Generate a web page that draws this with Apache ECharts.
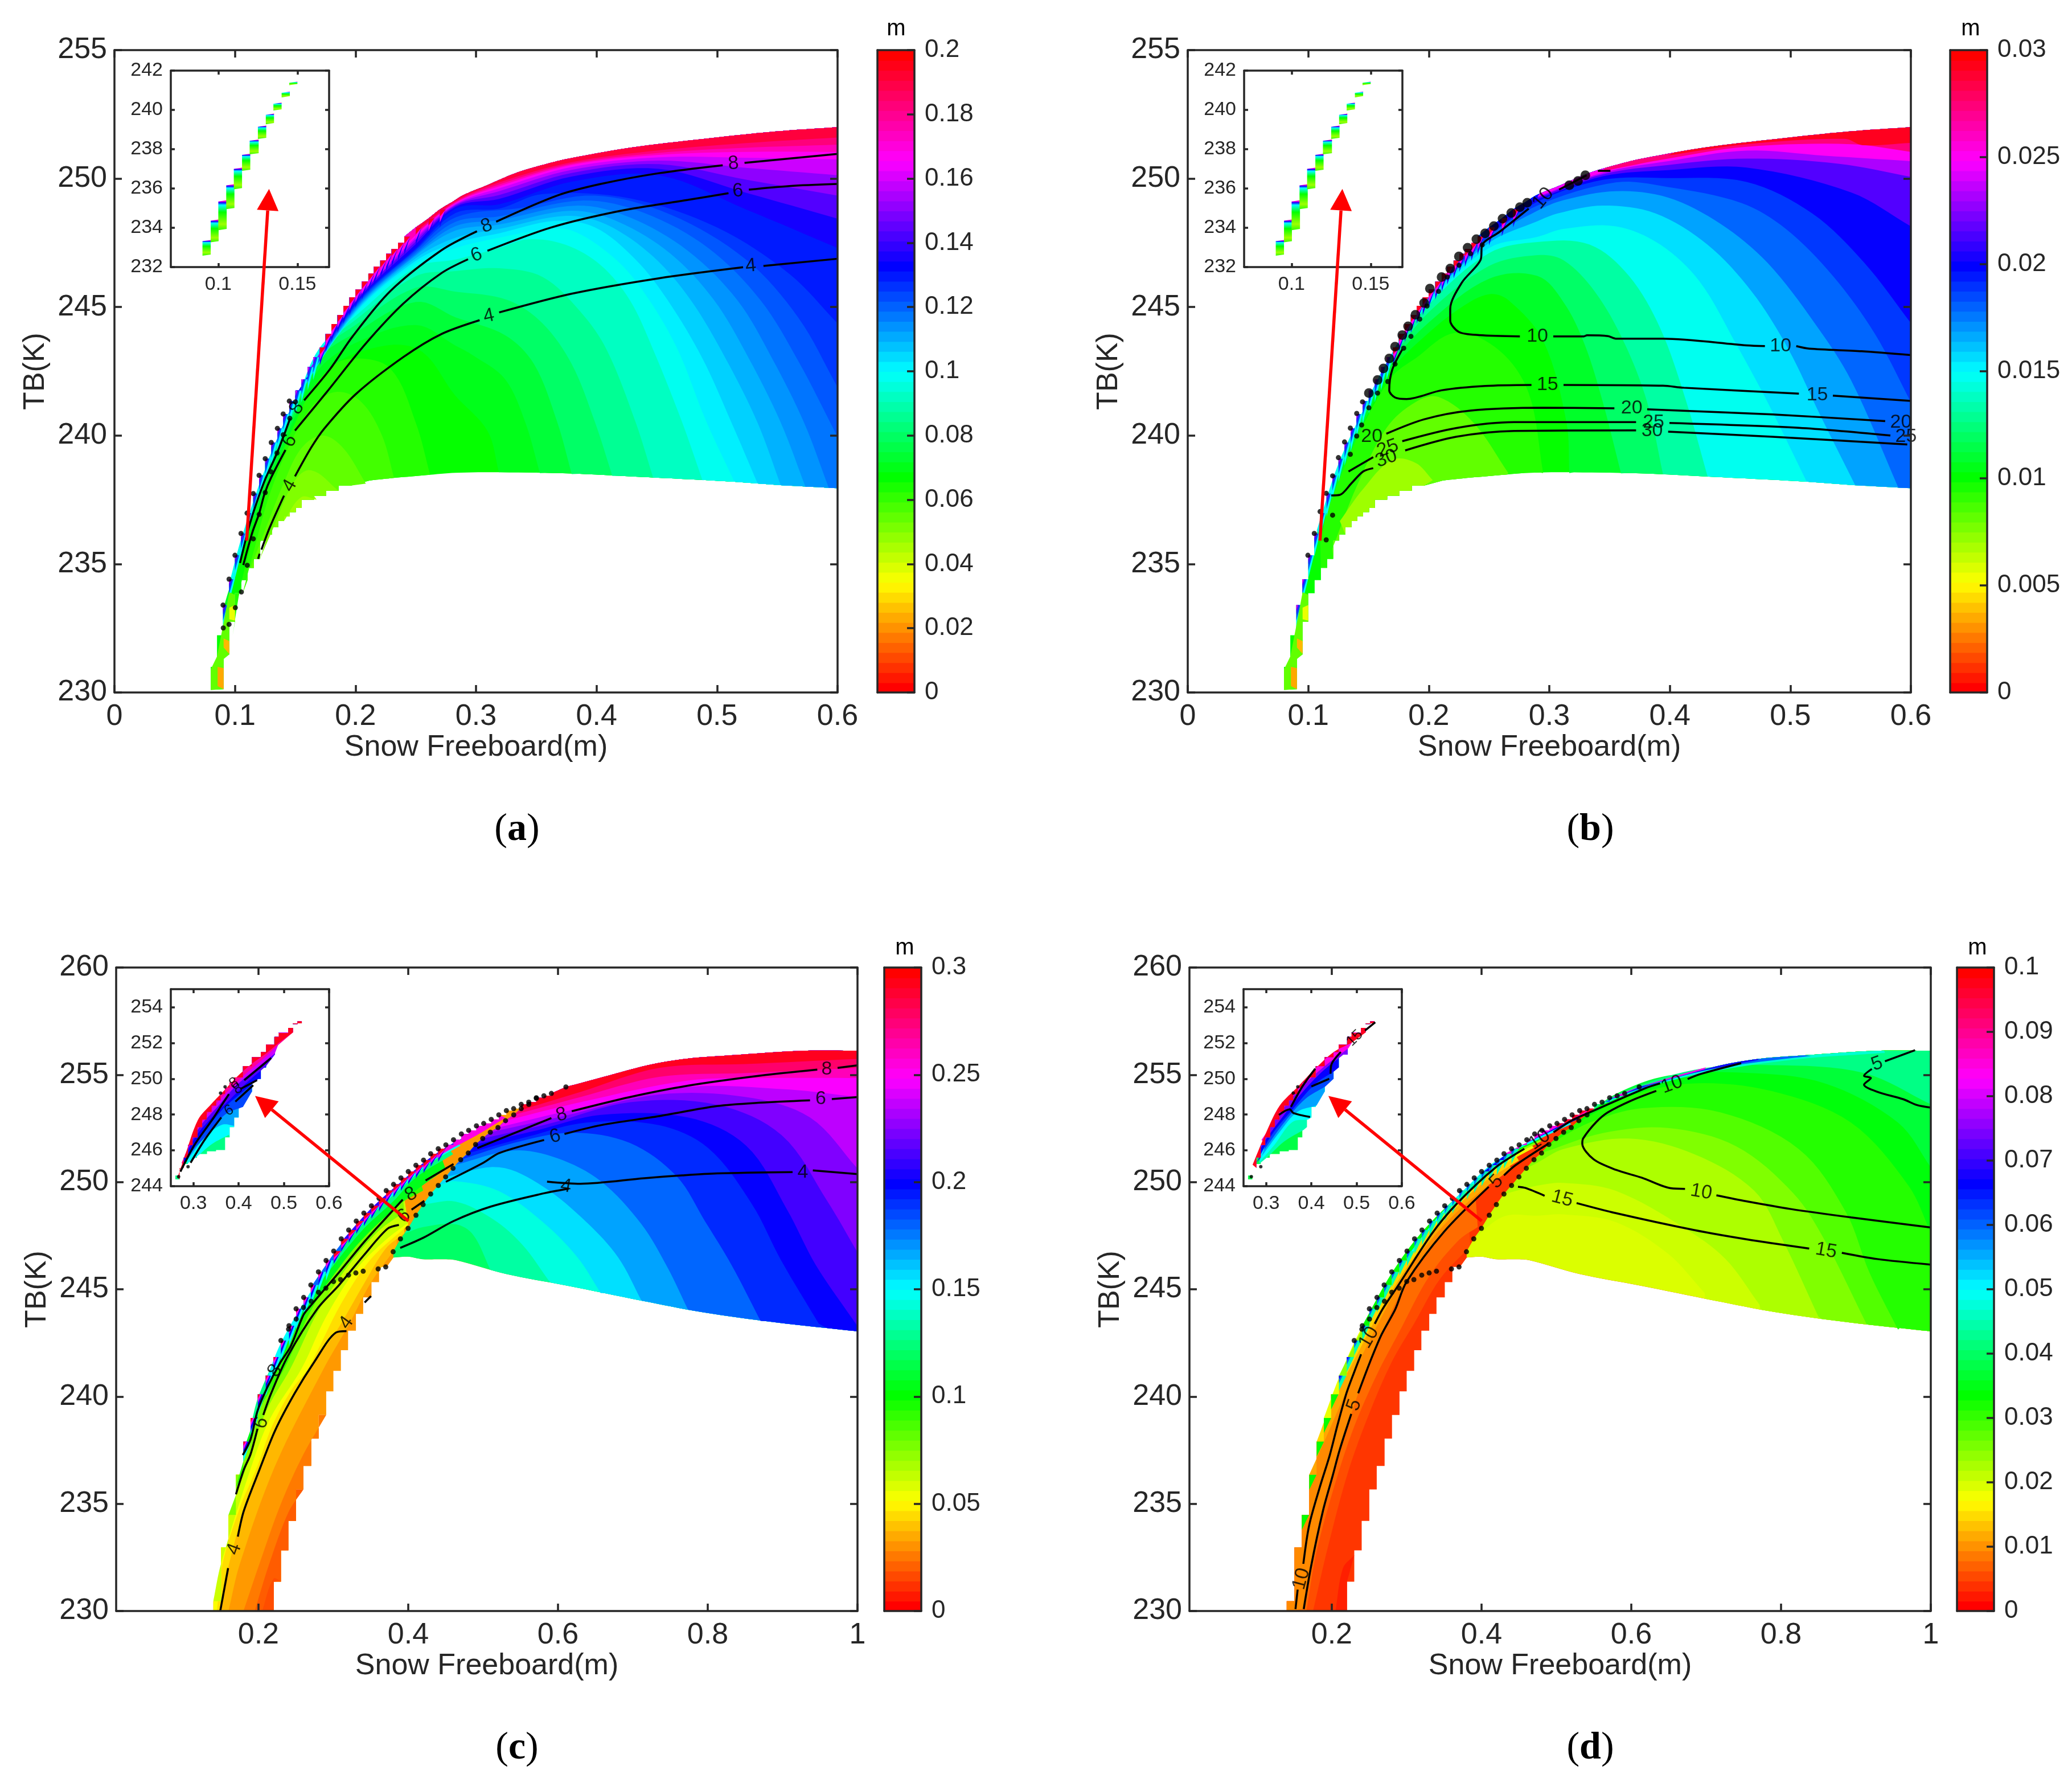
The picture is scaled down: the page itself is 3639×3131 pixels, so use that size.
<!DOCTYPE html>
<html>
<head>
<meta charset="utf-8">
<title>Snow freeboard retrieval</title>
<script src="https://cdn.jsdelivr.net/npm/echarts@6/dist/echarts.min.js"></script>
<style>
html,body{margin:0;padding:0;background:#fff}
#chart{width:3639px;height:3131px}
</style>
</head>
<body>
<div id="chart"></div>
<script>
// tick labels
const xTicksAB = [0,.1,.2,.3,.4,.5,.6];
const yTicksAB = [230,235,240,245,250,255];
const xTicksCD = [.2,.4,.6,.8,1];
const yTicksCD = [230,235,240,245,250,255,260];
const xTicksInsetAB = [.1,.15];
const yTicksInsetAB = [232,234,236,238,240,242];
const xTicksInsetCD = [.3,.4,.5,.6];
const yTicksInsetCD = [244,246,248,250,252,254];

// outer edge of the filled area, panels a and b
const upperA = [[.0799,230.1],[.0799,231],[.0851,232.23],[.0901,233.4],[.0951,234.41],[.1,235.34],[.105,236.19],[.11,236.98],[.1152,237.74],[.12,238.45],[.1251,239.1],[.1301,239.73],[.1352,240.28],[.14,240.84],[.1451,241.34],[.1502,241.75],[.1552,242.19],[.1604,242.66],[.165,243.05],[.1704,243.43],[.1752,243.95],[.18,244.34],[.1851,244.69],[.19,245.05],[.195,245.38],[.2,245.68],[.2054,245.99],[.2107,246.3],[.2153,246.57],[.2206,246.81],[.2254,247.07],[.23,247.26],[.2353,247.5],[.2405,247.74],[.25,248.1],[.2606,248.45],[.27,248.8],[.2806,249.1],[.29,249.37],[.3066,249.69],[.335,250.25],[.365,250.65],[.3794,250.8],[.4276,251.2],[.49,251.55],[.548,251.83],[.6,252]];
const lowerA = [[.0906,230.13],[.0953,231.48],[.1,232.75],[.1053,233.86],[.1105,234.37],[.1157,234.85],[.1207,235.2],[.1257,235.91],[.1308,236.15],[.1358,236.43],[.1407,236.67],[.1455,236.86],[.1505,237.02],[.1553,237.18],[.1655,237.5],[.1757,237.66],[.1859,237.85],[.1961,238.05],[.2118,238.25],[.2275,238.33],[.2589,238.46],[.283,238.55],[.3205,238.57],[.3794,238.52],[.4323,238.4],[.4757,238.3],[.5145,238.2],[.5528,238.07],[.6,237.95]];
// outer edge, panels c and d
const upperCD = [[.1399,230],[.1399,230.46],[.1503,232.97],[.16,234.48],[.1699,236.35],[.1799,237.9],[.1895,239],[.1992,240.1],[.2097,240.97],[.2201,241.84],[.23,242.61],[.2408,243.3],[.2503,244.09],[.2604,244.62],[.27,245.2],[.2801,245.81],[.2903,246.34],[.3005,246.78],[.3106,247.35],[.3205,247.76],[.3306,248.18],[.3408,248.55],[.3509,248.89],[.3611,249.24],[.3706,249.6],[.3804,249.89],[.3903,250.19],[.4001,250.49],[.4103,250.78],[.4205,251.02],[.43,251.32],[.4401,251.55],[.4503,251.73],[.4605,251.97],[.471,252.24],[.4807,252.41],[.4911,252.62],[.5008,252.73],[.5109,252.92],[.521,253.13],[.5311,253.33],[.5408,253.42],[.5509,253.62],[.561,253.72],[.5711,253.93],[.5812,254.02],[.5912,254.13],[.6106,254.43],[.6611,254.9],[.7193,255.44],[.7697,255.74],[.8318,255.91],[.9288,256.12],[1,256.12]];
const lowerCD = [[.2204,230],[.2301,231.37],[.24,232.83],[.2502,234.2],[.2601,235.67],[.2706,236.76],[.2805,238.04],[.2905,239.14],[.3001,240.24],[.3101,241.2],[.3197,242.16],[.3302,243.07],[.3399,243.85],[.351,244.62],[.3611,245.33],[.3713,246.04],[.3804,246.48],[.3994,246.52],[.4198,246.4],[.4435,246.4],[.4632,246.36],[.5311,245.71],[.6106,245.18],[.7115,244.47],[.793,243.93],[.89,243.46],[1,243.04]];
const dotsInnerCD = [[.2402,243.14],[.2504,243.61],[.2602,244.15],[.2704,244.44],[.2802,244.86],[.2901,245.05],[.3002,245.36],[.3097,245.45],[.3202,245.66],[.3301,245.76],[.3399,245.84],[.3599,245.95],[.37,246.04],[.3799,246.75],[.3897,247.35],[.3999,247.84],[.4104,248.45],[.4199,248.95],[.43,249.44],[.4402,249.84],[.45,250.24],[.4599,250.64],[.4701,251.04],[.4802,251.35],[.49,251.75],[.4995,252.03],[.5097,252.32],[.5199,252.54],[.53,252.86],[.5409,253.13]];
const dotsExtraC = [[.5509,253.42],[.561,253.62],[.5711,253.9]];
const dotsInnerA = [[.1502,241.31],[.1455,240.67],[.14,240.03],[.1349,239.32],[.1298,238.59],[.1251,237.78],[.1201,236.93],[.1152,235.98],[.1102,234.95],[.1053,233.91],[.1003,233.3],[.0951,232.65],[.0903,232.51]];
const dotsInnerB = [[.1149,235.94],[.1202,236.9],[.1349,239.27],[.1402,239.98],[.1443,240.41],[.1503,241.08],[.1575,241.65],[.166,242.1],[.172,242.78],[.1792,243.4],[.1852,243.86],[.1925,244.53],[.1985,245.04],[.2081,245.61],[.2154,246.17],[.225,246.63],[.2346,247.08],[.2443,247.42]];
const dotsOuterB = [[.0997,235.34],[.105,236.19],[.1098,237.04],[.1149,237.75],[.1202,238.43],[.125,239.14],[.1301,239.75],[.1349,240.29],[.1402,240.86],[.145,241.31]];
const blobsB = [[.1503,241.65],[.1575,242.16],[.1624,242.61],[.1672,243],[.172,243.46],[.178,243.91],[.1828,244.25],[.1889,244.7],[.1961,245.16],[.2009,245.72],[.2106,246.17],[.2178,246.5],[.225,246.97],[.2322,247.31],[.2395,247.64],[.2467,247.87],[.254,248.15],[.2612,248.44],[.2684,248.66],[.2756,248.89],[.2817,249.06],[.3166,249.74],[.3238,249.91],[.3299,250.13]];

// colour levels: [fraction of the colour bar, edge of the band]
const domesA = [[.31,[[.262,238.46],[.25,240.5],[.229,242.6],[.2,243],[.175,242.6],[.155,241.4],[.135,239.2],[.118,236.6],[.105,234.2],[.098,232.2]]],
[.29,[[.232,238.35],[.222,240],[.205,241.3],[.185,241.7],[.165,241.2],[.145,239.6],[.128,237.6],[.115,235.4],[.106,233.8]]],
[.27,[[.2086,238.13],[.19,239.5],[.1725,240],[.155,239.5],[.14,238.1],[.124,236.2],[.113,234.85]]],
[.25,[[.186,237.85],[.163,238.65],[.149,238.2],[.13,236.2],[.1207,235.2]]],
[.23,[[.1678,237.5],[.155,237.6],[.1403,236.65]]]];
const isoA = [[.35,[[.319,238.57],[.3095,240.18],[.283,241.54],[.25,243.4],[.2,243.2],[.17,242.2],[.15,240.5],[.125,237.7],[.105,235.35],[.095,234],[.09,233.2]]],
[.37,[[.353,238.54],[.3408,240.52],[.324,242.2],[.2975,243.12],[.283,243.5],[.25,244.3],[.2,243.6],[.17,242.6],[.15,240.75],[.125,238],[.105,235.55],[.093,233.5]]],
[.40,[[.3794,238.5],[.3674,240.52],[.3481,242.78],[.324,243.91],[.283,244.6],[.25,245.2],[.2,244],[.17,243],[.15,240.95],[.125,238.2],[.105,235.7]]],
[.43,[[.4131,238.43],[.3987,240.52],[.3794,242.78],[.3553,244.36],[.3264,245.27],[.283,245.6],[.25,245.75],[.2,244.3],[.17,243.2],[.15,241.05],[.125,238.4],[.105,235.8]]],
[.46,[[.4469,238.37],[.4324,240.52],[.4083,243.35],[.3866,244.82],[.3553,246.17],[.3192,246.51],[.283,246.4],[.25,246.2],[.2,244.5],[.17,243.3],[.15,241.15],[.125,238.55],[.105,235.9]]],
[.49,[[.4879,238.26],[.471,240.52],[.4469,243.35],[.4276,245.27],[.4035,246.63],[.3746,247.42],[.3433,247.64],[.3192,247.3],[.283,246.85],[.25,246.55],[.2,244.65],[.17,243.4],[.15,241.25],[.125,238.7],[.105,235.95],[.095,234.2]]],
[.51,[[.5144,238.2],[.4903,240.63],[.4662,243.46],[.4372,245.72],[.4131,246.97],[.3794,247.98],[.3553,248],[.3192,247.7],[.283,247.3],[.25,246.7],[.2,244.75],[.15,241.3],[.125,238.8]]],
[.53,[[.5336,238.14],[.512,240.5],[.4879,243],[.459,245.27],[.4324,246.85],[.3987,248.1],[.3649,248.35],[.3192,247.87],[.283,247.5],[.25,246.8],[.2,244.8],[.15,241.33],[.13,239.3]]],
[.55,[[.5529,238.06],[.5336,240.5],[.5071,243],[.4782,245.27],[.4469,246.97],[.4083,248.21],[.3746,248.55],[.3192,248.04],[.283,247.7],[.25,246.9],[.2,244.85],[.15,241.36],[.13,239.35]]],
[.57,[[.5734,238],[.5529,240.5],[.5264,243],[.4975,245.27],[.4613,247.08],[.418,248.32],[.3794,248.75],[.3192,248.21],[.283,247.98],[.25,247],[.2,244.9],[.15,241.4]]],
[.59,[[.5927,237.96],[.5722,240.5],[.5457,243],[.5168,245.27],[.4758,247.19],[.4276,248.49],[.3842,248.95],[.3192,248.38],[.283,248.15],[.25,247.05],[.2,244.95],[.15,241.43]]],
[.61,[[.6,239.95],[.5674,242.9],[.536,245.27],[.4927,247.3],[.4397,248.66],[.389,249.15],[.3192,248.53],[.283,248.32],[.25,247.12],[.2,245],[.15,241.46]]],
[.63,[[.6,241.88],[.5674,244.59],[.524,246.85],[.4613,248.6],[.3987,249.34],[.336,248.85],[.283,248.49],[.25,247.2],[.2,245.05],[.15,241.5]]],
[.65,[[.6,244.36],[.56,246.29],[.4999,248.1],[.4276,249.23],[.3553,249.4],[.3192,248.83],[.283,248.66],[.25,247.25],[.2,245.1],[.15,241.53]]],
[.68,[[.6,247.3],[.524,248.8],[.4517,250.13],[.3794,249.88],[.3192,249],[.283,248.83],[.25,247.3],[.2,245.15],[.15,241.55]]],
[.72,[[.6,248.44],[.524,249.45],[.4517,250.38],[.3794,250.08],[.3192,249.21],[.283,248.9],[.25,247.45],[.2,245.2],[.16,242.4]]],
[.76,[[.6,249.34],[.524,249.96],[.4517,250.56],[.3794,250.22],[.3192,249.36],[.283,248.95],[.25,247.55],[.2,245.27],[.16,242.45]]],
[.80,[[.6,250.13],[.524,250.42],[.4517,250.7],[.3794,250.34],[.3192,249.51],[.283,248.98],[.25,247.65],[.2,245.32]]],
[.84,[[.6,250.75],[.524,250.81],[.4517,250.83],[.3794,250.45],[.3192,249.62],[.283,249.02],[.25,247.72],[.2,245.37]]],
[.88,[[.6,251.04],[.524,251.04],[.4517,250.92],[.3794,250.53],[.3192,249.7],[.283,249.05],[.25,247.8],[.2,245.42]]],
[.92,[[.6,251.32],[.524,251.2],[.4517,251],[.3794,250.58],[.3192,249.77],[.283,249.08],[.25,247.87]]],
[.96,[[.6,251.6],[.524,251.38],[.4517,251.1],[.3794,250.64],[.3192,249.85],[.283,249.12],[.25,247.95]]]];
const patchesAB = [[.27,[[.0799,230.1],[.0906,230.13],[.0906,231.3],[.0953,231.48],[.0953,232.75],[.1,232.75],[.1,233.8],[.0953,233.9],[.0901,232.6],[.0851,231.4],[.0799,230.9]]],
[.11,[[.0856,230.25],[.0906,230.13],[.0906,230.95],[.0856,231]]],
[.12,[[.0906,231.75],[.0953,231.5],[.0953,232],[.0906,232.1]]],
[.18,[[.0953,232.85],[.1,232.8],[.1,233.4],[.0953,233.3]]]];

const domesB = [[.31,[[.2949,238.54],[.2829,241.65],[.2588,243.3],[.2226,244],[.1889,243],[.1696,242.3],[.1455,240.4],[.1214,237.9],[.11,236]]],
[.27,[[.266,238.54],[.2371,240.5],[.2081,241.5],[.1889,241.3],[.165,240.3],[.14,238],[.12,235.6]]],
[.23,[[.2033,238.26],[.1889,238.94],[.1696,239.05],[.1455,237.92],[.1262,236.67]]]];
const isoB = [[.36,[[.3166,238.54],[.3142,240.52],[.2949,243.69],[.266,245.27],[.25,245.5],[.2274,245],[.2,244],[.17,242.6],[.15,240.9],[.125,238.2],[.107,235.9]]],
[.40,[[.3595,238.53],[.3444,241.3],[.3292,243.56],[.3118,245.19],[.2901,246.21],[.25,246.1],[.2,244.4],[.17,242.85],[.15,241.1],[.125,238.5],[.107,236.1]]],
[.44,[[.3943,238.5],[.3812,241.3],[.3617,243.66],[.3378,245.6],[.3118,246.82],[.2901,247.02],[.25,246.6],[.2,244.8],[.17,243],[.15,241.25],[.125,238.7],[.107,236.2]]],
[.49,[[.4312,238.43],[.4138,241.3],[.3921,244.17],[.3661,246.21],[.3335,247.43],[.2901,247.53],[.25,247.1],[.2,245.1],[.17,243.15],[.15,241.4],[.125,238.9],[.107,236.3]]],
[.52,[[.5136,238.2],[.4811,241.3],[.455,243.56],[.4246,246],[.3921,247.43],[.3552,248.14],[.3118,248.04],[.2901,247.73],[.25,247.3],[.2,245.2],[.17,243.25],[.15,241.5]]],
[.56,[[.5538,238.07],[.5245,240.82],[.4984,243.36],[.468,245.6],[.4312,247.43],[.3878,248.65],[.3444,248.95],[.3075,248.65],[.2901,248.34],[.25,247.5],[.2,245.3],[.17,243.3]]],
[.60,[[.5896,237.97],[.5505,242.14],[.5201,244.38],[.4811,246.72],[.442,248.24],[.3986,249.26],[.3552,249.51],[.3118,249.16],[.2901,248.75],[.25,247.65],[.2,245.38]]],
[.63,[[.6,241.3],[.57,243.97],[.5353,246.21],[.4963,248.04],[.4594,249.05],[.3986,249.67],[.3552,249.85],[.2901,248.95],[.25,247.75],[.2,245.45]]],
[.67,[[.6,244.38],[.5614,246.72],[.518,248.65],[.4637,249.87],[.3986,250.02],[.3444,249.95],[.2901,249.1],[.25,247.82]]],
[.72,[[.6,248.14],[.5505,249.46],[.4637,250.43],[.3986,250.33],[.3444,250.09],[.2901,249.2]]],
[.78,[[.6,250.07],[.5397,250.58],[.4637,250.78],[.3986,250.53],[.3444,250.17],[.2901,249.26]]],
[.84,[[.6,250.68],[.5288,250.89],[.4637,251.09],[.3986,250.68],[.3444,250.23],[.2901,249.3]]],
[.92,[[.6,251.04],[.5505,251.34],[.4637,251.24],[.3986,250.78],[.3444,250.29]]],
[.98,[[.6,251.39],[.56,251.3],[.545,251.55],[.4637,251.34],[.3986,250.9]]]];

const domesC = [[.08,[[.18,230],[.2013,232.2],[.23,235],[.26,237.3],[.2905,239.14]]],
[.06,[[.195,230],[.2144,232.2],[.24,234.6],[.2601,235.67]]],
[.05,[[.205,230],[.22,231.5],[.2301,231.4]]]];
const arcsC = [[.12,[[.16,230],[.1752,232.2],[.2222,236.76],[.2876,241.33],[.32,243.3],[.35,245.3],[.385,247]]],
[.145,[[.149,230],[.1595,232],[.1804,234.66],[.2013,236.58],[.2222,238.41],[.2484,240.15],[.2745,241.61],[.3033,243],[.34,245.2],[.37,246.9],[.395,247.6]]],
[.17,[[.1445,230],[.152,232.2],[.175,234.8],[.1987,236.76],[.218,238.6],[.244,240.3],[.2667,241.33],[.31,244.3],[.35,246.4],[.40,248]]],
[.20,[[.1399,230.5],[.15,232.2],[.1908,236.76],[.216,239],[.258,241.33],[.29,243.7],[.33,245.9],[.37,247.3],[.40,248.1]]],
[.25,[[.16,234.48],[.1843,236.76],[.21,239.3],[.2431,241.33],[.28,244],[.32,246.1],[.36,247.7],[.395,248.6]]],
[.30,[[.1699,235.8],[.178,236.76],[.2,239.3],[.235,241.33],[.27,244],[.31,246.2],[.35,247.8],[.39,249],[.42,249.6]]],
[.35,[[.1799,237.5],[.1987,239.32],[.2118,240.42],[.2288,241.56],[.2601,243.8],[.2906,245.2],[.33,247],[.37,248.4],[.41,249.6],[.45,250.6]]],
[.42,[[.1895,238.6],[.2,240],[.23,242.3],[.26,244.2],[.30,246.1],[.34,247.8],[.38,249.1],[.41,250.2],[.46,251.3]]],
[.50,[[.2097,240.7],[.23,242.5],[.27,244.9],[.31,246.9],[.35,248.4],[.39,249.7],[.43,250.9],[.47,251.7]]],
[.60,[[.27,245.1],[.31,247.1],[.35,248.6],[.39,249.9],[.43,251.05],[.47,251.85]]],
[.70,[[.31,247.2],[.35,248.75],[.39,250],[.43,251.15],[.47,252],[.5,252.4]]],
[.85,[[.37,249.3],[.41,250.45],[.45,251.4],[.49,252.15],[.53,253]]]];
const isoRightC = [[.44,[[.5098,245.9],[.4865,247.55],[.4632,248.03],[.42,247.9],[.395,247.6]]],
[.48,[[.5874,245.42],[.5524,247.08],[.5136,248.26],[.4632,249.09],[.4199,248.95]]],
[.52,[[.6572,244.82],[.6262,246.48],[.5796,248.14],[.5214,249.57],[.4632,250.04],[.4402,249.84]]],
[.56,[[.7115,244.47],[.6805,246.48],[.6378,248.14],[.5796,249.8],[.5214,250.69],[.45,250.24]]],
[.60,[[.7736,244.05],[.7464,246.01],[.7115,248.03],[.6572,250.04],[.599,251.11],[.5408,251.47],[.4632,250.8]]],
[.64,[[.8706,243.52],[.8318,246.13],[.7969,248.14],[.7581,250.28],[.696,251.82],[.6184,252.3],[.5408,251.82],[.4701,251.04]]],
[.67,[[.9482,243.4],[.8978,246.36],[.859,248.97],[.8008,251.58],[.7348,252.65],[.6378,252.77],[.5602,252.12],[.4802,251.35]]],
[.71,[[1,243.28],[.9443,246.13],[.9055,248.74],[.8512,251.7],[.7736,253.01],[.6572,253.13],[.5718,252.41],[.49,251.75]]],
[.75,[[1,246.72],[.9598,249.1],[.8988,252.18],[.8124,253.6],[.696,253.72],[.5874,252.71],[.4995,252.03]]],
[.79,[[1,250.63],[.9366,253.01],[.8512,253.96],[.7348,254.08],[.6068,253.07],[.5097,252.32]]],
[.83,[[1,253.96],[.9094,254.31],[.7736,254.43],[.6262,253.42],[.5199,252.54]]],
[.88,[[1,254.85],[.88,254.85],[.7736,254.73],[.63,253.72],[.53,252.86]]],
[.93,[[1,255.32],[.851,255.08],[.735,254.9],[.63,253.96],[.5409,253.13]]],
[.98,[[1,255.74],[.851,255.5],[.735,255.32],[.63,254.2],[.55,253.35]]]];

const domesD = [[.02,[[.205,230],[.215,232],[.2301,232.6]]]];
const arcsD = [[.05,[[.175,230],[.195,233],[.222,236.5],[.25,239.2],[.28,241.6],[.31,243.4],[.345,245.5],[.385,247]]],
[.07,[[.166,230],[.18,232.8],[.205,236],[.23,238.6],[.26,241],[.29,243],[.33,245.6],[.37,247.3],[.395,247.9]]],
[.09,[[.1626,230.1],[.1725,232.1],[.1882,234.66],[.2013,236.31],[.2261,239.19],[.251,241.6],[.2996,245.33],[.3504,247.7],[.4097,249.78]]],
[.11,[[.1699,236.35],[.19,237.9],[.21,239.5],[.235,241.5],[.262,243.4],[.30,245.8],[.35,248],[.40,249.6],[.44,250.6]]],
[.14,[[.1799,237.9],[.2,239.7],[.23,241.7],[.26,243.7],[.30,246],[.35,248.2],[.40,249.9],[.45,251]]],
[.18,[[.1895,239],[.21,240.9],[.24,243.2],[.28,245.3],[.32,247.3],[.37,249.1],[.42,250.6],[.47,251.6]]],
[.24,[[.2097,240.97],[.24,243.1],[.28,245.6],[.32,247.5],[.37,249.3],[.42,250.8],[.48,251.9]]],
[.33,[[.24,243.25],[.28,245.75],[.32,247.65],[.37,249.4],[.42,250.9],[.48,252]]],
[.5,[[.30,246.5],[.34,248.3],[.38,249.75],[.42,251],[.48,252.05],[.52,252.7]]],
[.67,[[.4,250.4],[.44,251.45],[.48,252.15],[.53,252.95]]],
[.85,[[.43,251.3],[.47,252],[.52,252.9],[.58,253.95]]]];
const isoRightD = [[.2,[[.698,244.83],[.649,246.66],[.5793,248.13],[.5095,248.49],[.4746,248.43],[.43,248.4],[.3897,247.35]]],
[.22,[[.7713,244.28],[.7259,246.41],[.67,247.88],[.5793,249.59],[.5095,249.96],[.4746,249.83],[.43,249.44]]],
[.25,[[.8498,243.73],[.8026,247.27],[.7643,249.59],[.684,251.3],[.5968,252.03],[.5095,251.54],[.4746,250.9],[.4599,250.64]]],
[.28,[[.9144,243.36],[.8585,247.27],[.8166,249.47],[.7398,251.67],[.6491,252.52],[.5618,252.28],[.4802,251.35]]],
[.31,[[.9562,243.12],[.9178,245.8],[.8864,248.61],[.8236,251.54],[.7189,253.25],[.6142,253.44],[.5444,252.77],[.49,251.75]]],
[.34,[[1,247.64],[.9702,249.83],[.8934,252.77],[.7887,254.23],[.684,254.6],[.5968,253.99],[.527,252.75]]],
[.37,[[1,250.69],[.9562,252.77],[.8585,254.6],[.7538,255.09],[.6491,254.96],[.5793,254.1],[.53,252.86]]],
[.42,[[1,253.62],[.9109,255.08],[.7887,255.45],[.684,255.23],[.5793,254.05],[.5409,253.13]]]];
const capRightD = [[.47,[[.9388,256.02],[.82,255.72],[.7,255.1],[.62,254.4],[.56,253.6]]],
[.6,[[.84,255.88],[.75,255.5],[.68,255.05],[.6,254.2],[.565,253.75]]],
[.68,[[.77,255.7],[.7,255.22],[.63,254.6],[.57,253.85]]],
[.85,[[.7,255.35],[.65,254.85],[.6,254.3],[.575,253.95]]]];

// inset fills
const insetBlocks = [[.09,.0952,233.32,232.58],[.0952,.1002,234.36,233.26],[.1,.1053,235.34,233.88],[.105,.1102,236.16,234.95],[.1098,.115,237,235.96],[.115,.1202,237.71,236.9],[.1198,.1255,238.43,237.74],[.125,.1303,239.14,238.52],[.13,.1352,239.75,239.27],[.1348,.14,240.31,239.97],[.14,.1452,240.87,240.64],[.1448,.15,241.38,241.26]];
const insetBlockStops = [[0,.98],[.03,.85],[.08,.68],[.16,.5],[.4,.33],[.8,.23],[1,.3]];
const upperInset = [[.26,244.38],[.2695,245.02],[.2785,245.6],[.288,246.3],[.298,246.73],[.309,247.3],[.3192,247.72],[.3294,248.15],[.34,248.5],[.3503,248.79],[.36,249.14],[.37,249.5],[.38,249.78],[.39,250.07],[.4096,250.7],[.4294,251.2],[.449,251.49],[.4605,251.9],[.479,252.34],[.4887,252.55],[.5096,252.84],[.52,253.05],[.53,253.2],[.5396,253.26]];
const lowerInset = [[.26,244.3],[.2695,244.6],[.2785,245.02],[.288,245.24],[.3079,245.59],[.33,245.8],[.35,245.95],[.37,246.02],[.38,246.73],[.39,247.3],[.4,247.84],[.4096,248.43],[.4294,249.28],[.449,249.99],[.4605,250.63],[.48,251.34],[.4887,251.98],[.52,252.58],[.5396,253.09]];
const isoInsetC = [[.5,[[.3785,246.87],[.3418,246.37],[.3079,245.66],[.2853,245.24]]],
[.56,[[.3898,247.37],[.3644,247.44],[.3305,246.87],[.2966,245.8],[.2825,245.31]]],
[.62,[[.4096,248.43],[.37,248],[.3362,247.01],[.2994,246.02],[.2808,245.24]]],
[.67,[[.4435,249.99],[.4096,249.28],[.37,248.43],[.3362,247.44],[.3023,246.3],[.2768,245.16]]],
[.72,[[.4605,250.7],[.4209,249.85],[.3814,248.86],[.3418,247.86],[.3079,246.87],[.2768,245.45]]],
[.80,[[.48,251.41],[.4322,250.42],[.3927,249.57],[.3531,248.43],[.3136,247.3],[.2808,245.73]]],
[.90,[[.4887,251.91],[.4492,250.99],[.4096,250.14],[.37,249.14],[.3305,248.01],[.2966,246.59],[.274,245.31]]],
[.98,[[.4887,252],[.46,251.4],[.43,250.85],[.40,250.2],[.37,249.4],[.34,248.6],[.31,247.7],[.28,245.6],[.265,244.5]]]];
const isoInsetD = [[.45,[[.3831,247.15],[.3407,246.51],[.3011,245.59],[.2842,245.24]]],
[.5,[[.3927,247.72],[.3576,247.58],[.3181,246.3],[.2842,245.31]]],
[.56,[[.4113,248.5],[.3689,248.15],[.3294,247.01],[.2898,245.66]]],
[.62,[[.4311,249.57],[.3859,248.86],[.3407,247.58],[.2955,246.02]]],
[.67,[[.4508,250.42],[.4085,249.71],[.3633,248.43],[.3124,246.87],[.2785,245.31]]],
[.75,[[.4706,251.34],[.4311,250.56],[.3915,249.57],[.3407,248.01],[.2955,246.44],[.2729,245.24]]],
[.85,[[.4819,251.7],[.4367,250.85],[.3915,249.85],[.3407,248.43],[.2898,246.59]]],
[.98,[[.4887,252],[.45,251.5],[.41,250.6],[.37,249.55],[.33,248.5],[.30,247],[.27,245.2]]]];

// contour lines, one array per unbroken piece
const contoursA = [
[[.3008,247.95],[.2713,247.21],[.2291,245.63],[.1975,243.85],[.1785,242.56],[.1574,241.37]],
[[.1458,240.67],[.1349,239.32],[.1254,238.33],[.1176,237.34],[.1113,236.39],[.1042,235.04]],
[[.3167,248.32],[.3674,249.34],[.4035,249.79],[.4517,250.21],[.5047,250.52]],[[.5228,250.61],[.6,250.96]],
[[.2934,246.86],[.2713,246.32],[.2396,245.13],[.208,243.55],[.1763,241.7],[.1498,240.19]],
[[.1419,239.44],[.1301,238.37],[.1246,237.74],[.1199,236.94],[.1144,236.23],[.1069,234.96]],
[[.3095,247.19],[.3625,248.1],[.4204,248.75],[.4758,249.17],[.5095,249.43]],[[.5264,249.57],[.56,249.71],[.6,249.79]],
[[.303,244.49],[.2713,243.95],[.2396,243.05],[.2,241.6],[.1741,240.27],[.1631,239.52],[.1498,238.41]],
[[.1407,237.66],[.1286,236.39],[.122,235.56]],[[.1204,235.4],[.1192,235.2]],
[[.3192,244.79],[.3794,245.52],[.4517,246.12],[.5216,246.55]],[[.5385,246.6],[.6,246.88]]];
const labelsA = [['8',.3088,248.15,20],['8',.5136,250.58,5],['6',.3004,247.02,20],['6',.5172,249.51,5],['4',.3107,244.65,12],['4',.528,246.6,5],['8',.1513,241.06,60],['6',.1455,239.79,60],['4',.1455,238.05,60]];

const contoursB = [
[[.3403,250.3],[.3507,250.3]],
[[.331,250.13],[.3081,249.57]],
[[.2829,248.83],[.2588,247.93],[.2443,247.42],[.2431,246.85],[.2274,245.95],[.2178,244.93],[.2178,244.48],[.225,244.03],[.2419,243.91],[.2756,243.86]],
[[.3033,243.86],[.3286,243.86],[.3313,243.9],[.3487,243.87],[.3552,243.77],[.3943,243.77],[.4637,243.51],[.4789,243.48]],
[[.5049,243.48],[.5158,243.38],[.5592,243.28],[.6,243.13]],
[[.178,243.35],[.1696,242.55],[.1672,241.76],[.172,241.48],[.1816,241.42],[.2106,241.76],[.2467,241.93],[.2852,241.97]],
[[.3118,241.97],[.3943,241.94],[.4116,241.86],[.5071,241.63]],[[.5353,241.55],[.6,241.35]],
[[.1648,240.07],[.1961,240.63],[.2347,240.97],[.2949,241.08],[.354,241.06]],
[[.3812,241.02],[.4854,240.82],[.5787,240.56]],
[[.1539,239.16],[.1334,238.6]],
[[.178,239.78],[.2226,240.29],[.2708,240.52],[.372,240.52]],[[.3997,240.49],[.507,240.3],[.583,240]],
[[.1539,238.73],[.1455,238.6],[.1358,238.14],[.1262,237.69],[.119,237.67]],
[[.1804,239.42],[.2226,239.95],[.2708,240.18],[.372,240.2]],[[.3986,240.15],[.4854,239.95],[.597,239.65]]];
const labelsB = [['10',.2949,249.23,50],['10',.2901,243.86,0],['10',.4919,243.48,0],['15',.2985,241.97,0],['15',.5223,241.58,0],['20',.1527,239.95,0],['20',.3684,241.06,0],['20',.5917,240.51,0],['25',.166,239.5,20],['25',.3865,240.52,0],['25',.596,239.95,0],['30',.1648,239.1,20],['30',.3853,240.18,0]];

const contoursC = [
[[.149,230],[.1595,232]],
[[.1725,233.47],[.1804,234.66],[.2013,236.58],[.2222,238.41],[.2484,240.15],[.2745,241.61],[.3033,242.98],[.3176,243.05]],
[[.3418,244.38],[.3503,244.68]],
[[.17,235.44],[.1804,236.58],[.1895,237.31],[.1987,238.5]],
[[.2065,239.14],[.217,240.15],[.2392,241.88],[.2784,244.08],[.308,245.21],[.3418,246.63],[.3723,247.82],[.3876,248]],
[[.1791,237.27],[.1895,238],[.1987,239.32],[.2118,240.42],[.2288,241.56],[.2431,242.34],[.2601,243.8],[.2706,244.27],[.3079,245.8],[.3418,247.23],[.3757,248.53],[.3927,249.18]],
[[.4232,250.07],[.4605,250.84]],[[.4045,248.71],[.4215,249.12]],
[[.4503,250.01],[.5005,250.9],[.5214,251.35],[.5815,251.96]],[[.6087,252.24],[.6572,252.65],[.7348,253.07],[.8124,253.54],[.8706,253.7],[.9366,253.81]],[[.9657,253.87],[1,253.96]],
[[.4923,251.58],[.5912,252.98]],[[.6184,253.3],[.696,253.96],[.7736,254.49],[.8706,254.96],[.9463,255.24]],[[.9734,255.32],[1,255.44]],
[[.3893,246.93],[.42,247.4],[.4605,248.18],[.5098,248.85],[.5757,249.43],[.6145,249.69]],
[[.5854,250.02],[.63,249.92],[.7154,250.18],[.7658,250.31],[.8124,250.4],[.9133,250.46]],[[.9404,250.54],[1,250.37]]];
const labelsC = [['4',.1678,232.88,70],['4',.3176,243.44,55],['6',.2039,238.77,70],['6',.3944,248.41,40],['8',.2222,241.2,55],['8',.4039,249.42,30],['8',.6048,253.13,15],['8',.959,255.26,0],['6',.5963,252.12,15],['6',.951,253.87,0],['4',.6106,249.8,-10],['4',.9269,250.46,0]];

const contoursD = [
[[.1516,230.09],[.1545,231]],
[[.1626,230.09],[.1725,232.1],[.1882,234.66],[.2013,236.31],[.2105,237.5],[.2261,239.19]],
[[.2353,240.15],[.251,241.6],[.2667,242.9],[.285,244.08],[.2996,245.33],[.3504,247.7],[.4097,249.78]],
[[.43,250.31],[.4453,250.78],[.4894,251.79]],
[[.6334,254.25],[.6002,253.8],[.5688,253.25],[.5531,252.79],[.5357,252.03],[.5346,251.79],[.5496,251.06],[.5793,250.57],[.6142,250.2],[.6526,249.71],[.6718,249.68]],
[[.7137,249.38],[.7538,249.1],[.8131,248.74],[.8934,248.35],[1,247.88]],
[[.1621,232.2],[.1699,234],[.1843,235.8],[.1974,237.27],[.2078,238.68],[.2196,240.15],[.2301,241.15],[.2392,241.97]],
[[.2575,243.39],[.268,244.08],[.2894,245.21],[.3335,247.58],[.3674,249],[.4182,250.66],[.4572,251.55]],
[[.4962,252.32],[.52,252.86],[.5409,253.19],[.6194,254.38],[.6386,254.6]],
[[.6753,254.8],[.691,255.02],[.7468,255.54]],
[[.4487,249.78],[.4589,249.72],[.4843,249.36]],
[[.527,249.02],[.5793,248.55],[.684,247.76],[.7538,247.33],[.8376,246.9]],[[.8812,246.7],[.9283,246.41],[1,246.15]],
[[.979,256.15],[.9388,255.63]],
[[.9213,255.27],[.9109,254.95],[.92,254.85],[.9109,254.54],[.9283,254.21],[.9632,253.86],[.9806,253.6],[1,253.47]]];
const labelsD = [['10',.1595,231.5,75],['10',.2497,242.75,60],['5',.2301,239.6,70],['5',.4199,250.01,45],['10',.4775,251.97,35],['10',.6543,254.54,20],['10',.6934,249.53,-10],['15',.5078,249.22,-15],['15',.8602,246.8,-10],['5',.9283,255.51,20]];

const contoursInsetC = [[[.2712,244.81],[.3023,246.3],[.3418,247.72],[.3644,248.6],[.3785,249.14]],[[.4124,249.92],[.4718,251.16]],[[.2938,245.31],[.3249,246.59],[.3616,247.84]],[[.3927,248.72],[.4322,249.64]],[[.404,249.43],[.4407,249.92]]];
const labelsInsetC = [['8',.3898,249.75,30],['8',.3983,249.43,30],['6',.3785,248.22,30]];
const contoursInsetD = [[[.3282,247.98],[.352,248.29],[.3605,248.08],[.3972,247.86]],[[.3548,248.43],[.3802,249.57],[.4085,250.56]],[[.4,249.57],[.4395,250]],[[.4424,250.28],[.4452,250.85],[.465,251.49]],[[.5186,252.69],[.5412,253.15]]];
const labelsInsetD = [['15',.496,252.27,45]];

const arrowAB = [.1097,235.91,.1283,249.6];
const arrowCD = [.4003,248.18,.1955,254.01];

const cornerStacksA = [[.09,.17,[[.5,.0048,.9],[.62,.0035,.6],[.72,.0022,.35],[.85,.0012,.2]]],[.17,.28,[[.68,.0048,.7],[.84,.0048,.5],[.98,.0048,.28]]]];
const cornerStacksC = [[.175,.3,[[.5,.0098,.95],[.66,.007,.65],[.84,.005,.4],[.98,.003,.2]]],[.3,.45,[[.66,.0098,.6],[.84,.0098,.45],[.98,.0098,.3]]]];
const cornerStacksD = [[.16,.2,[[.33,.0098,.7]]],[.2,.45,[[.45,.0098,.7],[.6,.005,.35],[.68,.003,.15]]],[.5,.59,[[.98,.0098,.2]]]];

const TEXT = '#262626';
const SANS = '"Liberation Sans", Arial, sans-serif';
const scaleAB = [2116,45], scaleCD = [1315,37.7], scaleIn = [794,31];

// matlab hsv colour map
function hue(t) {
  const h = ((t % 1) + 1) % 1 * 6, i = Math.floor(h), f = h - i;
  const v = [[1,f,0],[1-f,1,0],[0,1,f],[0,1-f,1],[f,0,1],[1,0,1-f]][i];
  return 'rgb(' + v.map(c => Math.round(c * 255)).join(',') + ')';
}
// rounds the corners of a drawn band edge, same idea as smooth on a line series
function curve(pts, s) {
  if (pts.length < 3) return pts;
  const q = pts.map(p => [p[0]*s[0], p[1]*s[1]]), out = [pts[0]];
  const tan = i => {
    const a = q[Math.max(i-1,0)], b = q[Math.min(i+1,q.length-1)];
    const l = Math.hypot(b[0]-a[0], b[1]-a[1]) || 1;
    return [(b[0]-a[0])/l, (b[1]-a[1])/l];
  };
  for (let i = 0; i < q.length-1; i++) {
    const d = Math.hypot(q[i+1][0]-q[i][0], q[i+1][1]-q[i][1]), t0 = tan(i), t1 = tan(i+1);
    const c1 = [q[i][0]+t0[0]*d/3, q[i][1]+t0[1]*d/3], c2 = [q[i+1][0]-t1[0]*d/3, q[i+1][1]-t1[1]*d/3];
    for (let k = 1; k <= 8; k++) {
      const u = k/8, v = 1-u;
      const x = v*v*v*q[i][0]+3*v*v*u*c1[0]+3*v*u*u*c2[0]+u*u*u*q[i+1][0];
      const y = v*v*v*q[i][1]+3*v*v*u*c1[1]+3*v*u*u*c2[1]+u*u*u*q[i+1][1];
      out.push([x/s[0], y/s[1]]);
    }
  }
  return out;
}
function stairsUp(list, limit, s) {
  const out = [list[0]];
  const tail = list.filter(p => p[0] >= limit);
  for (let i = 1; i < list.length; i++) {
    if (list[i][0] >= limit) break;
    out.push([list[i][0], list[i-1][1]]);
    out.push(list[i]);
  }
  return tail.length ? out.concat(curve(tail, s)) : out;
}
function stairsLow(list, limit, s) {
  const out = [list[0]];
  const tail = list.filter(p => p[0] >= limit);
  for (let i = 1; i < list.length; i++) {
    if (list[i][0] >= limit) break;
    out.push([list[i-1][0], list[i][1]]);
    out.push(list[i]);
  }
  return tail.length ? out.concat(curve(tail, s)) : out;
}
function basePoly(t, up, low) {
  return {t: t, pts: up.concat(low.slice().reverse())};
}
function domePolys(list, low, s) {
  return list.map(([t, iso]) => {
    const a = iso[0][0], b = iso[iso.length-1][0];
    let edge = low.filter(p => p[0] > Math.min(a,b) && p[0] < Math.max(a,b));
    if (a < b) edge = edge.reverse();
    return {t: t, pts: curve(iso, s).concat(edge)};
  });
}
function gePolys(list, up, low, s) {
  return list.map(([t, iso]) => {
    const a = iso[0], b = iso[iso.length-1];
    return {t: t, pts: curve(iso, s).concat(up.filter(p => p[0] > b[0]), low.filter(p => p[0] > a[0]).reverse())};
  });
}
function capPolys(list, up, s) {
  return list.map(([t, iso]) => {
    const a = iso[0], b = iso[iso.length-1];
    return {t: t, pts: curve(iso, s).concat(up.filter(p => p[0] > b[0] && p[0] < a[0]))};
  });
}
function arcPolys(list, up, s) {
  return list.map(([t, iso]) => {
    const a = iso[0], b = iso[iso.length-1];
    const edge = up.filter(p => p[0] < b[0] && (a[1] < 231 || p[0] > a[0])).reverse();
    return {t: t, pts: curve(iso, s).concat(edge)};
  });
}
function cornerPolys(stacks, list) {
  const out = [];
  stacks.forEach(([from, to, stack]) => {
    list.filter(p => p[0] >= from && p[0] < to).forEach(p => {
      stack.forEach(([t, dx, dy]) => {
        out.push({t: t, pts: [p, [p[0]+dx, p[1]], [p[0], p[1]-dy]]});
      });
    });
  });
  return out;
}
function patchPolys(list) {
  return list.map(([t, pts]) => ({t: t, pts: pts}));
}

const upAB = stairsUp(upperA, .25, scaleAB), lowAB = stairsLow(lowerA, .2, scaleAB);
const upCD = stairsUp(upperCD, .6, scaleCD), lowCD = stairsLow(lowerCD, .38, scaleCD);
const edgeR = dotsInnerCD.filter(p => p[0] >= .3799);
const upR = [[.3804,246.48]].concat(edgeR, upCD.filter(p => p[0] > .545));
const lowR = lowCD.filter(p => p[0] >= .3804);
const upIn = stairsUp(upperInset, 1, scaleIn), lowIn = stairsLow(lowerInset, 1, scaleIn);

const polysA = [basePoly(.33, upAB, lowAB)].concat(domePolys(domesA, lowAB, scaleAB), gePolys(isoA, upAB, lowAB, scaleAB), cornerPolys(cornerStacksA, upperA), patchPolys(patchesAB));
const polysB = [basePoly(.33, upAB, lowAB)].concat(domePolys(domesB, lowAB, scaleAB), gePolys(isoB, upAB, lowAB, scaleAB), cornerPolys(cornerStacksA, upperA), patchPolys(patchesAB));
const polysC = [basePoly(.10, upCD, lowCD)].concat(domePolys(domesC, lowCD, scaleCD), arcPolys(arcsC, upCD, scaleCD), cornerPolys(cornerStacksC, upperCD), [basePoly(.40, upR, lowR)], gePolys(isoRightC, upR, lowR, scaleCD));
const polysD = [basePoly(.035, upCD, lowCD)].concat(domePolys(domesD, lowCD, scaleCD), arcPolys(arcsD, upCD, scaleCD), cornerPolys(cornerStacksD, upperCD), [basePoly(.19, upR, lowR)], gePolys(isoRightD, upR, lowR, scaleCD), capPolys(capRightD, upR, scaleCD));
const polysInsetC = [basePoly(.42, upIn, lowIn)].concat(gePolys(isoInsetC, upIn, lowIn, scaleIn));
const polysInsetD = [basePoly(.38, upIn, lowIn)].concat(gePolys(isoInsetD, upIn, lowIn, scaleIn));

const grids = [], xAxes = [], yAxes = [], series = [];

function addGrid(box) {
  grids.push({left: box.left, top: box.top, width: box.width, height: box.height, show: false, containLabel: false});
  return grids.length - 1;
}
function tickAxis(g, pos, min, max, ticks, lab) {
  const line = {show: true, onZero: false, lineStyle: {color: TEXT, width: 3.5}};
  return {
    type: 'value', gridIndex: g, position: pos, min: min, max: max, z: 6,
    splitLine: {show: false},
    axisLine: line,
    axisTick: {show: !!ticks, inside: true, length: lab ? lab.tick : 13, lineStyle: {color: TEXT, width: 3.5}, customValues: ticks || undefined},
    axisLabel: lab && lab.show ? {show: true, customValues: ticks, fontFamily: SANS, fontSize: lab.size, color: TEXT, margin: lab.margin, formatter: v => String(v), hideOverlap: false} : {show: false}
  };
}
function addPolys(gx, gy, polys, z) {
  series.push({
    type: 'custom', coordinateSystem: 'cartesian2d', xAxisIndex: gx, yAxisIndex: gy, z: z, silent: true, clip: true,
    data: polys.map(p => p.pts[0]),
    renderItem: (params, api) => {
      const p = polys[params.dataIndex];
      return {type: 'polygon', shape: {points: p.pts.map(q => api.coord(q))}, style: {fill: hue(p.t)}};
    }
  });
}
function addLines(gx, gy, lines, width) {
  lines.forEach(seg => series.push({
    type: 'line', xAxisIndex: gx, yAxisIndex: gy, z: 4, data: seg, showSymbol: false, silent: true, smooth: .3,
    lineStyle: {color: '#000', width: width}
  }));
}
function addDots(gx, gy, pts, size) {
  series.push({type: 'scatter', xAxisIndex: gx, yAxisIndex: gy, z: 4, data: pts, symbolSize: size, itemStyle: {color: '#000'}, silent: true});
}
function addLabels(gx, gy, labels, size) {
  series.push({
    type: 'scatter', xAxisIndex: gx, yAxisIndex: gy, z: 5, symbolSize: 0, silent: true,
    data: labels.map(l => ({value: [l[1], l[2]], label: {show: true, position: 'inside', formatter: l[0], rotate: l[3], fontFamily: SANS, fontSize: size, color: '#000'}}))
  });
}
function addArrow(gx, gy, arrow) {
  series.push({
    type: 'custom', coordinateSystem: 'cartesian2d', xAxisIndex: gx, yAxisIndex: gy, z: 8, silent: true,
    data: [arrow], encode: {x: [0,2], y: [1,3]},
    renderItem: (params, api) => {
      const a = api.coord([api.value(0), api.value(1)]), b = api.coord([api.value(2), api.value(3)]);
      const len = Math.hypot(b[0]-a[0], b[1]-a[1]), ux = (b[0]-a[0])/len, uy = (b[1]-a[1])/len;
      const bx = b[0]-ux*38, by = b[1]-uy*38;
      return {type: 'group', children: [
        {type: 'line', shape: {x1: a[0], y1: a[1], x2: bx, y2: by}, style: {stroke: '#ff0000', lineWidth: 5.5}},
        {type: 'polygon', shape: {points: [b, [bx-uy*19, by+ux*19], [bx+uy*19, by-ux*19]]}, style: {fill: '#ff0000'}}
      ]};
    }
  });
}
function addBlocks(gx, gy) {
  series.push({
    type: 'custom', coordinateSystem: 'cartesian2d', xAxisIndex: gx, yAxisIndex: gy, z: 3, silent: true,
    data: insetBlocks.map(b => [b[0], b[2]]),
    renderItem: (params, api) => {
      const b = insetBlocks[params.dataIndex];
      return {type: 'polygon', shape: {points: [[b[0],b[2]],[b[1],b[2]+.06],[b[1],b[3]+.06],[b[0],b[3]]].map(q => api.coord(q))},
        style: {fill: {type: 'linear', x: 0, y: 0, x2: 0, y2: 1, colorStops: insetBlockStops.map(s => ({offset: s[0], color: hue(s[1])}))}}};
    }
  });
}
function addBar(box, max, ticks) {
  const g = addGrid(box), ix = xAxes.length, iy = yAxes.length;
  xAxes.push(tickAxis(g, 'bottom', 0, 1, null));
  xAxes.push(tickAxis(g, 'top', 0, 1, null));
  yAxes.push(tickAxis(g, 'right', 0, max, ticks, {show: true, size: 44, margin: 18, tick: 13}));
  yAxes.push(tickAxis(g, 'left', 0, max, null));
  const steps = [];
  for (let i = 0; i < 64; i++) steps.push(i);
  series.push({
    type: 'custom', coordinateSystem: 'cartesian2d', xAxisIndex: ix, yAxisIndex: iy, z: 2, silent: true, clip: true,
    data: steps.map(i => [0, i/64*max]),
    renderItem: (params, api) => {
      const i = params.dataIndex, a = api.coord([0, i/64*max]), b = api.coord([1, (i+1)/64*max]);
      return {type: 'rect', shape: {x: a[0], y: b[1], width: b[0]-a[0], height: a[1]-b[1]+1}, style: {fill: hue(i/63)}};
    }
  });
}
function addPanel(c) {
  const g = addGrid(c.box), ix = xAxes.length, iy = yAxes.length;
  const xa = tickAxis(g, 'bottom', c.xRange[0], c.xRange[1], c.xTicks, {show: true, size: 52, margin: 17, tick: 13});
  xa.name = 'Snow Freeboard(m)'; xa.nameLocation = 'middle'; xa.nameGap = 71;
  xa.nameTextStyle = {fontFamily: SANS, fontSize: 52, color: TEXT};
  xAxes.push(xa);
  xAxes.push(tickAxis(g, 'top', c.xRange[0], c.xRange[1], c.xTicks, {tick: 13}));
  const ya = tickAxis(g, 'left', c.yRange[0], c.yRange[1], c.yTicks, {show: true, size: 52, margin: 13, tick: 13});
  ya.name = 'TB(K)'; ya.nameLocation = 'middle'; ya.nameGap = 112; ya.nameRotate = 90;
  ya.nameTextStyle = {fontFamily: SANS, fontSize: 52, color: TEXT};
  yAxes.push(ya);
  yAxes.push(tickAxis(g, 'right', c.yRange[0], c.yRange[1], c.yTicks, {tick: 13}));
  addPolys(ix, iy, c.polys, 2);
  addLines(ix, iy, c.contours, 3.5);
  addDots(ix, iy, c.dots, 9);
  if (c.blobs) addDots(ix, iy, c.blobs, 17);
  addLabels(ix, iy, c.labels, 34);
  addArrow(ix, iy, c.arrow);

  // inset
  const h = addGrid(c.inset.box), jx = xAxes.length, jy = yAxes.length;
  xAxes.push(tickAxis(h, 'bottom', c.inset.xRange[0], c.inset.xRange[1], c.inset.xTicks, {show: true, size: 34, margin: 14, tick: 7}));
  xAxes.push(tickAxis(h, 'top', c.inset.xRange[0], c.inset.xRange[1], c.inset.xTicks, {tick: 7}));
  yAxes.push(tickAxis(h, 'left', c.inset.yRange[0], c.inset.yRange[1], c.inset.yTicks, {show: true, size: 34, margin: 14, tick: 7}));
  yAxes.push(tickAxis(h, 'right', c.inset.yRange[0], c.inset.yRange[1], c.inset.yTicks, {tick: 7}));
  if (c.inset.polys) addPolys(jx, jy, c.inset.polys, 3); else addBlocks(jx, jy);
  if (c.inset.contours) {
    addLines(jx, jy, c.inset.contours, 3.5);
    addLabels(jx, jy, c.inset.labels, 26);
    addDots(jx, jy, c.inset.dots, 6);
  }
  addBar(c.bar.box, c.bar.max, c.bar.ticks);
}

const insetBoxY = {top: 124, height: 345}, insetBoxY2 = {top: 1737, height: 346};
const outerDotsA = upperA.filter(p => p[0] >= .0901 && p[0] <= .146);
const outerDotsCD = upperCD.filter(p => p[0] >= .23 && p[0] <= .612);
const insetDots = [[.2672,244.53],[.2881,245.09],[.36,249.2],[.37,249.55]];

addPanel({
  box: {left: 201, top: 88, width: 1270, height: 1128}, xRange: [0,.6], yRange: [230,255], xTicks: xTicksAB, yTicks: yTicksAB,
  polys: polysA, contours: contoursA, labels: labelsA, dots: outerDotsA.concat(dotsInnerA), arrow: arrowAB,
  inset: {box: Object.assign({left: 300, width: 278}, insetBoxY), xRange: [.07,.17], yRange: [232,242], xTicks: xTicksInsetAB, yTicks: yTicksInsetAB},
  bar: {box: {left: 1541, top: 88, width: 65, height: 1128}, max: .2, ticks: [0,.02,.04,.06,.08,.1,.12,.14,.16,.18,.2]}
});
addPanel({
  box: {left: 2086, top: 88, width: 1270, height: 1128}, xRange: [0,.6], yRange: [230,255], xTicks: xTicksAB, yTicks: yTicksAB,
  polys: polysB, contours: contoursB, labels: labelsB, dots: dotsOuterB.concat(dotsInnerB), blobs: blobsB, arrow: arrowAB,
  inset: {box: Object.assign({left: 2185, width: 278}, insetBoxY), xRange: [.07,.17], yRange: [232,242], xTicks: xTicksInsetAB, yTicks: yTicksInsetAB},
  bar: {box: {left: 3425, top: 88, width: 65, height: 1128}, max: .03, ticks: [0,.005,.01,.015,.02,.025,.03]}
});
addPanel({
  box: {left: 204, top: 1699, width: 1302, height: 1130}, xRange: [.01,1], yRange: [230,260], xTicks: xTicksCD, yTicks: yTicksCD,
  polys: polysC, contours: contoursC, labels: labelsC, dots: outerDotsCD.concat(dotsInnerCD, dotsExtraC), arrow: arrowCD,
  inset: {box: Object.assign({left: 300, width: 278}, insetBoxY2), xRange: [.25,.6], yRange: [244,255], xTicks: xTicksInsetCD, yTicks: yTicksInsetCD, polys: polysInsetC, contours: contoursInsetC, labels: labelsInsetC, dots: insetDots},
  bar: {box: {left: 1553, top: 1699, width: 65, height: 1130}, max: .3, ticks: [0,.05,.1,.15,.2,.25,.3]}
});
addPanel({
  box: {left: 2089, top: 1699, width: 1302, height: 1130}, xRange: [.01,1], yRange: [230,260], xTicks: xTicksCD, yTicks: yTicksCD,
  polys: polysD, contours: contoursD, labels: labelsD, dots: outerDotsCD.concat(dotsInnerCD), arrow: arrowCD,
  inset: {box: Object.assign({left: 2184, width: 278}, insetBoxY2), xRange: [.25,.6], yRange: [244,255], xTicks: xTicksInsetCD, yTicks: yTicksInsetCD, polys: polysInsetD, contours: contoursInsetD, labels: labelsInsetD, dots: insetDots},
  bar: {box: {left: 3437, top: 1699, width: 65, height: 1130}, max: .1, ticks: [0,.01,.02,.03,.04,.05,.06,.07,.08,.09,.1]}
});

function caption(letter, x, y) {
  return {
    text: '{p|(}{b|' + letter + '}{p|)}', left: x, top: y, textAlign: 'center',
    textStyle: {fontWeight: 'normal', rich: {
      p: {fontFamily: '"Liberation Serif", serif', fontSize: 68, fontWeight: 'normal', color: '#000'},
      b: {fontFamily: '"Liberation Serif", serif', fontSize: 68, fontWeight: 'bold', color: '#000'}
    }}
  };
}
function unit(x, y) {
  return {text: 'm', left: x, top: y, textAlign: 'center', textStyle: {fontFamily: SANS, fontSize: 40, fontWeight: 'normal', color: '#000'}};
}

const chart = echarts.init(document.getElementById('chart'), null, {renderer: 'canvas'});
chart.setOption({
  animation: false,
  backgroundColor: '#fff',
  title: [caption('a', 903, 1418), caption('b', 2788, 1418), caption('c', 903, 3031), caption('d', 2788, 3031),
    unit(1569, 26), unit(3456, 26), unit(1584, 1640), unit(3468, 1640)],
  grid: grids, xAxis: xAxes, yAxis: yAxes, series: series
});
</script>
</body>
</html>
